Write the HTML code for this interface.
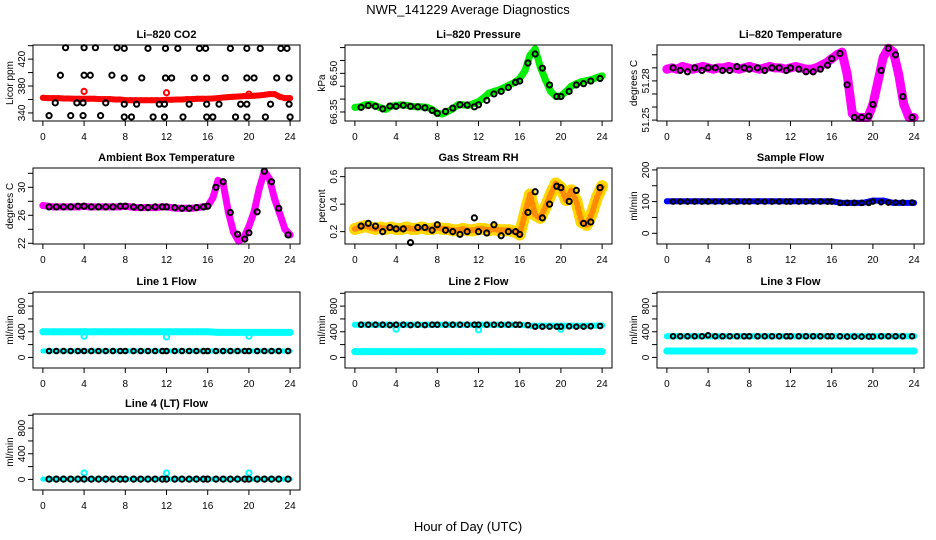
<!DOCTYPE html>
<html><head><meta charset="utf-8"><style>
body{margin:0;background:#fff}
svg{display:block;font-family:"Liberation Sans",sans-serif}
</style></head><body>
<svg id="chart" width="936" height="540" viewBox="0 0 936 540">
<text x="468" y="14" text-anchor="middle" font-size="13">NWR_141229  Average Diagnostics</text>
<text x="468" y="531" text-anchor="middle" font-size="13">Hour of Day (UTC)</text>
</svg>
<script>
const xTicks=[0,4,8,12,16,20,24];
const bh=[0.6,1.3,2.0,2.7,3.4,4.0,4.7,5.4,6.1,6.8,7.5,8.0,8.8,9.5,10.2,10.9,11.6,12.0,12.8,13.5,14.2,14.9,15.6,16.0,16.8,17.5,18.2,18.9,19.6,20.0,20.8,21.5,22.2,22.9,23.8];
// CO2
const co2Red=[362.5,362,362,362,361.5,361.5,361,361,361,361,361,360.5,360.5,360.5,360,360,359,359,359,359,359,359,359,359,359.5,359.5,360,360,360.5,360.5,361,361,361,361.5,362,363,363.5,364,364.5,365,365,365.5,366,367,368,368,364,362,362];
const co2BlackH=[2.2,4,5.1,7.2,7.9,10.2,11.9,13.1,15.2,15.8,18.2,19.8,21.1,23.1,23.7,1.7,4,4.6,6.7,7.9,9.6,11.9,12.5,14.7,15.9,17.7,19.8,20.5,22.7,23.9,1.2,3.3,3.9,6.1,7.9,9.1,11.3,11.8,14.2,15.9,17.1,19.2,19.8,22.1,23.9,0.6,2.7,3.9,5.6,7.9,8.6,10.7,11.8,13.6,15.9,16.5,18.7,19.8,21.6,24];
const co2BlackV=[437,437,437,437,436,436,436,436,436,436,436,436,436,436,436,396,396,396,396,392,392,392,392,392,392,392,392,392,392,392,355,355,355,355,353,353,353,353,353,353,353,353,353,353,353,336,336,336,336,334,334,334,334,334,334,334,334,334,334,334];
const co2OutH=[4,12,20], co2OutV=[372,370,368];
// Pressure
const presGreen=[66.368,66.37,66.378,66.38,66.374,66.366,66.36,66.372,66.376,66.378,66.376,66.372,66.37,66.37,66.368,66.36,66.345,66.342,66.352,66.362,66.378,66.378,66.375,66.382,66.39,66.405,66.423,66.43,66.436,66.445,66.455,66.465,66.48,66.51,66.57,66.595,66.525,66.474,66.43,66.41,66.412,66.43,66.45,66.46,66.468,66.472,66.476,66.484,66.49];
const presBlack=[66.368,66.375,66.372,66.362,66.373,66.372,66.376,66.372,66.37,66.366,66.356,66.345,66.352,66.365,66.378,66.377,66.37,66.378,66.395,66.42,66.43,66.445,66.465,66.47,66.54,66.575,66.52,66.455,66.41,66.41,66.43,66.455,66.46,66.47,66.48];
// Li-820 temperature
const ltMag=[51.289,51.29,51.289,51.291,51.29,51.289,51.29,51.291,51.29,51.289,51.29,51.29,51.291,51.29,51.289,51.29,51.291,51.29,51.289,51.29,51.291,51.29,51.29,51.289,51.29,51.291,51.29,51.289,51.289,51.29,51.292,51.294,51.297,51.3,51.302,51.285,51.255,51.252,51.252,51.252,51.262,51.28,51.298,51.305,51.302,51.285,51.262,51.252,51.252];
const ltBlack=[51.29,51.288,51.287,51.29,51.288,51.29,51.29,51.288,51.288,51.291,51.29,51.289,51.29,51.288,51.29,51.29,51.288,51.29,51.289,51.287,51.287,51.289,51.292,51.297,51.301,51.277,51.252,51.252,51.253,51.262,51.288,51.305,51.3,51.268,51.252];
// Ambient
const ambMag=[27.4,27.3,27.2,27.2,27.2,27.2,27.2,27.2,27.3,27.2,27.2,27.2,27.2,27.2,27.2,27.2,27.3,27.2,27.1,27.1,27.1,27.1,27.1,27.2,27.2,27.1,27.0,27.0,27.0,27.0,27.1,27.2,27.3,28.5,31.0,30.5,26.5,23.6,22.3,22.8,24.4,26.5,29.8,32.3,31.2,28.3,26.2,24.0,23.2];
const ambBlack=[27.2,27.2,27.2,27.2,27.3,27.3,27.2,27.2,27.2,27.2,27.3,27.3,27.2,27.1,27.1,27.2,27.2,27.2,27.1,27.0,27.0,27.1,27.2,27.3,30.0,30.8,26.4,23.3,22.6,23.5,26.5,32.3,30.8,27.0,23.2];
// Gas RH
const rhBand=[0.22,0.23,0.24,0.23,0.22,0.23,0.22,0.23,0.22,0.22,0.23,0.22,0.22,0.23,0.22,0.22,0.23,0.22,0.22,0.21,0.21,0.22,0.21,0.21,0.22,0.22,0.21,0.22,0.21,0.21,0.21,0.2,0.18,0.33,0.47,0.32,0.3,0.38,0.47,0.55,0.52,0.43,0.5,0.42,0.27,0.25,0.33,0.45,0.53];
const rhBlack=[0.24,0.26,0.24,0.2,0.23,0.22,0.22,0.12,0.23,0.23,0.21,0.25,0.21,0.2,0.18,0.2,0.3,0.2,0.19,0.25,0.17,0.2,0.2,0.18,0.34,0.49,0.3,0.4,0.53,0.52,0.42,0.5,0.26,0.27,0.52];
// Sample flow
const sfBlue=[101,101,101,101,101,101,101,101,101,101,101,101,101,101,101,101,101,96,96,96,103,103,96,96,96];
const sfBlack=[100,100,100,100,100,100,100,100,100,100,100,100,100,100,100,100,100,100,100,100,100,100,100,100,96,96,96,96,96,100,98,97,97,97,97];
// Line flows
const l1Upper=[400,400,400,400,400,400,400,400,400,400,400,400,400,400,400,400,400,390,390,390,390,390,390,390,390];
const l1Lower=[100,100,100,100,100,100,100,100,100,100,100,100,100,100,100,100,100,100,100,100,100,100,100,100,100];
const l1Black=[100,100,100,100,100,100,100,100,100,100,100,100,100,100,100,100,100,100,100,100,100,100,100,100,100,100,100,100,100,100,100,100,100,100,100];
const l1OutH=[4,12,20], l1OutV=[330,320,330];
const l2Upper=[510,510,510,510,510,510,510,510,510,510,510,510,510,510,510,510,510,495,495,495,495,495,495,495,500];
const l2Lower=[90,90,90,90,90,90,90,90,90,90,90,90,90,90,90,90,90,90,90,90,90,90,90,90,90];
const l2Black=[510,510,510,510,505,510,510,505,510,505,510,510,510,510,510,510,510,510,510,510,510,510,510,510,505,480,480,480,480,480,485,480,480,485,490];
const l2OutH=[4,12,20], l2OutV=[440,430,440];
const l3Upper=[330,330,330,330,330,330,330,330,330,330,330,330,330,330,330,330,330,330,330,330,330,330,330,330,330];
const l3Lower=[100,100,100,100,100,100,100,100,100,100,100,100,100,100,100,100,100,100,100,100,100,100,100,100,100];
const l3Black=[330,330,330,330,330,345,330,330,330,330,330,330,330,330,330,330,330,330,330,330,330,330,330,330,330,325,325,325,325,325,330,330,330,330,330];
const l4Cyan=[5,5,5,5,5,5,5,5,5,5,5,5,5,5,5,5,5,5,5,5,5,5,5,5,5];
const l4Black=[5,5,5,5,5,5,5,5,5,5,5,5,5,5,5,5,5,5,5,5,5,5,5,5,5,5,5,5,5,5,5,5,5,5,5];
const l4OutH=[4,12,20], l4OutV=[100,100,100];

const NS="http://www.w3.org/2000/svg";
const svg=document.getElementById('chart');
function mk(tag,attrs,parent){const e=document.createElementNS(NS,tag);for(const k in attrs)e.setAttribute(k,attrs[k]);(parent||svg).appendChild(e);return e;}
const rowTop=[45,168,292,414];
const flowTicks=[0,200,400,600,800,1000], flowLabels=['0','','400','','800',''];
const panels=[
 {name:'co2',col:0,row:0,title:'Li\u2013820 CO2',ylab:'Licor ppm',lo:328,hi:441,ticks:[340,360,380,400,420,440],labels:['340','','380','','420','']},
 {name:'pressure',col:1,row:0,title:'Li\u2013820 Pressure',ylab:'kPa',lo:66.315,hi:66.61,ticks:[66.35,66.40,66.45,66.50,66.55,66.60],labels:['66.35','','','66.50','','']},
 {name:'li820-temp',col:2,row:0,title:'Li\u2013820 Temperature',ylab:'degrees C',lo:51.2493,hi:51.3075,ticks:[51.25,51.26,51.27,51.28,51.29,51.30],labels:['51.25','','','51.28','','']},
 {name:'ambient-temp',col:0,row:1,title:'Ambient Box Temperature',ylab:'degrees C',lo:21.9,hi:32.76,ticks:[22,24,26,28,30,32],labels:['22','','26','','30','']},
 {name:'gas-rh',col:1,row:1,title:'Gas Stream RH',ylab:'percent',lo:0.11,hi:0.663,ticks:[0.2,0.4,0.6],labels:['0.2','0.4','0.6']},
 {name:'sample-flow',col:2,row:1,title:'Sample Flow',ylab:'ml/min',lo:-33.8,hi:206,ticks:[0,50,100,150,200],labels:['0','','100','','200']},
 {name:'line1-flow',col:0,row:2,title:'Line 1 Flow',ylab:'ml/min',lo:-165,hi:1020,ticks:flowTicks,labels:flowLabels},
 {name:'line2-flow',col:1,row:2,title:'Line 2 Flow',ylab:'ml/min',lo:-165,hi:1020,ticks:flowTicks,labels:flowLabels},
 {name:'line3-flow',col:2,row:2,title:'Line 3 Flow',ylab:'ml/min',lo:-165,hi:1020,ticks:flowTicks,labels:flowLabels},
 {name:'line4-flow',col:0,row:3,title:'Line 4 (LT) Flow',ylab:'ml/min',lo:-165,hi:1020,ticks:flowTicks,labels:flowLabels}
];
const P={};
panels.forEach(p=>{
 const x0=33+p.col*312,x1=x0+267,y0=rowTop[p.row],y1=y0+76;
 const g=mk('g',{});
 
 
 p.g=g;
 p.x=h=>x0+(h+0.96)*267/25.92;
 p.y=v=>y1-(v-p.lo)/(p.hi-p.lo)*76;
 p.x0=x0;p.y0=y0;p.x1=x1;p.y1=y1;
 const t=mk('text',{x:(x0+x1)/2,y:y0-7,'text-anchor':'middle','font-size':'11','font-weight':'bold'},g);t.textContent=p.title;
 
 
 const yl=mk('text',{x:0,y:0,'text-anchor':'middle','font-size':'10',transform:`translate(${x0-20},${(y0+y1)/2}) rotate(-90)`},g);yl.textContent=p.ylab;
 
 
 P[p.name]=p;
});
function band(p,vals,color,w,nm){
 const n=vals.length;const pts=vals.map((v,i)=>p.x(24*i/(n-1)).toFixed(1)+','+p.y(v).toFixed(1)).join(' ');
 const e=mk('polyline',{points:pts,fill:'none',stroke:color,'stroke-width':w,'stroke-linejoin':'round','stroke-linecap':'round'},p.g);
 
 
 vals.forEach((v,i)=>{mk('circle',{cx:p.x(24*i/(n-1)),cy:p.y(v),r:w/2,fill:color},p.g);});
 return e;
}
function pts(p,hs,vals,color,nm,r){
 const g=mk('g',{},p.g);
 
 
 hs.forEach((h,i)=>{mk('circle',{cx:p.x(h),cy:p.y(vals[i]),r:r||2.6,fill:'none',stroke:color,'stroke-width':2},g);});
}
// series
band(P['co2'],co2Red,'#ff0000',6,'co2-red-series');
pts(P['co2'],co2OutH,co2OutV,'#ff0000','co2-red-outliers');
pts(P['co2'],co2BlackH,co2BlackV,'#000','co2-black-points');
band(P['pressure'],presGreen,'#00ee00',7,'pressure-green-series');
pts(P['pressure'],bh,presBlack,'#000','pressure-black-points');
band(P['li820-temp'],ltMag,'#ff00ff',9,'li820-temp-magenta-series');
pts(P['li820-temp'],bh,ltBlack,'#000','li820-temp-black-points');
band(P['ambient-temp'],ambMag,'#ff00ff',7,'ambient-magenta-series');
pts(P['ambient-temp'],bh,ambBlack,'#000','ambient-black-points');
band(P['gas-rh'],rhBand,'#ffd700',12,'rh-yellow-band');
(function(){const e=band(P['gas-rh'],rhBand,'#ff8c00',0.1,'rh-orange-core');e.setAttribute('stroke-width','6');e.setAttribute('stroke-dasharray','1.5 3.5');})();
pts(P['gas-rh'],bh,rhBlack,'#000','rh-black-points');
band(P['sample-flow'],sfBlue,'#0000ff',6,'sample-flow-blue-series');
pts(P['sample-flow'],bh,sfBlack,'#000','sample-flow-black-points',2.3);
band(P['line1-flow'],l1Upper,'#00ffff',7,'line1-cyan-upper');
band(P['line1-flow'],l1Lower,'#00ffff',5,'line1-cyan-lower');
pts(P['line1-flow'],l1OutH,l1OutV,'#00ffff','line1-cyan-outliers');
pts(P['line1-flow'],bh,l1Black,'#000','line1-black-points',2.3);
band(P['line2-flow'],l2Upper,'#00ffff',6,'line2-cyan-upper');
band(P['line2-flow'],l2Lower,'#00ffff',7,'line2-cyan-lower');
pts(P['line2-flow'],l2OutH,l2OutV,'#00ffff','line2-cyan-outliers');
pts(P['line2-flow'],bh,l2Black,'#000','line2-black-points',2.3);
band(P['line3-flow'],l3Upper,'#00ffff',6,'line3-cyan-upper');
band(P['line3-flow'],l3Lower,'#00ffff',7,'line3-cyan-lower');
pts(P['line3-flow'],bh,l3Black,'#000','line3-black-points',2.3);
band(P['line4-flow'],l4Cyan,'#00ffff',5,'line4-cyan-series');
pts(P['line4-flow'],l4OutH,l4OutV,'#00ffff','line4-cyan-outliers');
pts(P['line4-flow'],bh,l4Black,'#000','line4-black-points',2.6);
// axes drawn on top
panels.forEach(p=>{
 const g=p.g;
 const box=mk('rect',{x:p.x0,y:p.y0,width:267,height:76,fill:'none',stroke:'#000','stroke-width':1},g);
 
 
 const xa=mk('g',{},g);
 
 
 mk('line',{x1:p.x(0),x2:p.x(24),y1:p.y1,y2:p.y1,stroke:'#000'},xa);
 xTicks.forEach(h=>{mk('line',{x1:p.x(h),x2:p.x(h),y1:p.y1,y2:p.y1+5,stroke:'#000'},xa);
  const t=mk('text',{x:p.x(h),y:p.y1+19,'text-anchor':'middle','font-size':'10'},xa);t.textContent=h;});
 const ya=mk('g',{},g);
 
 
 p.ticks.forEach((v,i)=>{const yy=p.y(v);mk('line',{x1:p.x0-5,x2:p.x0,y1:yy,y2:yy,stroke:'#000'},ya);
  if(p.labels[i]){const t=mk('text',{x:0,y:0,'text-anchor':'middle','font-size':'10',transform:`translate(${p.x0-8},${yy}) rotate(-90)`},ya);t.textContent=p.labels[i];}});
});
</script>
</body></html>
